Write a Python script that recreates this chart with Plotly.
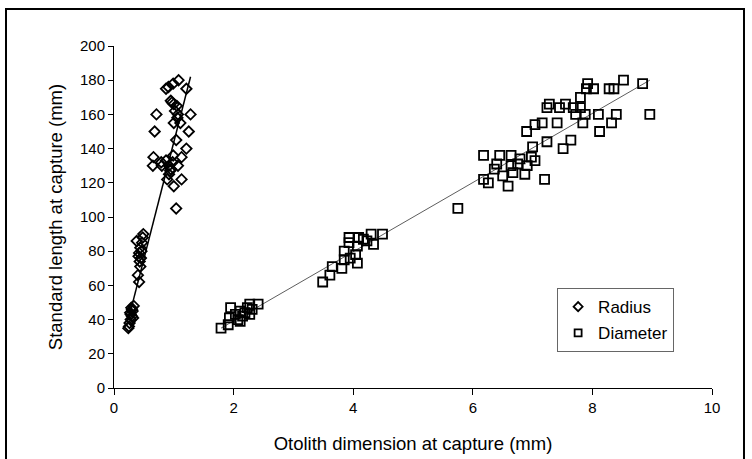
import plotly.graph_objects as go

# Radius data (otolith radius mm, standard length mm)
radius_x = [0.24, 0.26, 0.28, 0.30, 0.27, 0.31, 0.29, 0.33, 0.25, 0.32, 0.28, 0.30,
            0.42, 0.40, 0.44, 0.45, 0.42, 0.38, 0.49, 0.46, 0.43, 0.47, 0.41, 0.48, 0.44,
            0.71, 0.68, 0.66, 0.65, 0.80, 0.87, 0.91, 0.99, 1.08, 1.21, 1.28, 1.25, 1.21,
            1.13, 1.13, 1.00, 1.04, 0.89, 0.92, 0.95, 0.99, 1.04, 1.00, 1.11, 1.07, 0.97,
            1.00, 1.05, 0.95, 0.92, 1.07, 0.87, 0.79, 1.02, 0.98, 1.06, 0.94]
radius_y = [35, 38, 40, 42, 44, 45, 47, 48, 36, 41, 43, 46,
            62, 66, 71, 76, 79, 86, 90, 80, 74, 85, 77, 88, 82,
            160, 150, 135, 130, 130, 175, 176, 178, 180, 175, 160, 150, 140,
            135, 122, 118, 105, 122, 125, 128, 136, 145, 155, 155, 160, 167,
            166, 165, 168, 130, 130, 133, 132, 162, 132, 158, 127]

# Diameter data (otolith diameter mm, standard length mm)
diam_x = [1.79, 1.91, 1.95, 1.93, 2.03, 2.07, 2.11, 2.15, 2.19, 2.23, 2.27, 2.31, 2.41, 2.11, 2.27,
          3.49, 3.61, 3.65, 3.81, 3.85, 3.85, 3.93, 3.93, 3.95, 4.04, 4.07, 4.09, 4.17, 4.23,
          4.30, 4.34, 4.49, 4.07,
          5.75,
          6.18, 6.18, 6.26, 6.36, 6.40, 6.45, 6.50, 6.59, 6.64, 6.64, 6.67, 6.75, 6.79, 6.87,
          6.91, 6.98, 7.00, 7.04, 6.90, 7.04, 7.16, 7.24, 7.28, 7.24, 7.20, 7.41, 7.45, 7.55,
          7.51, 7.64, 7.80, 7.80, 7.88, 7.84, 7.92, 7.90, 8.02, 8.10, 8.12, 8.28, 8.36, 8.32,
          8.40, 8.52, 8.84, 8.96, 7.72, 7.68]
diam_y = [35, 37, 47, 41, 43, 40, 45, 42, 44, 47, 49, 46, 49, 39, 43,
          62, 66, 71, 70, 75, 80, 88, 85, 76, 78, 83, 88, 87, 86,
          90, 84, 90, 73,
          105,
          136, 122, 120, 128, 131, 136, 124, 118, 136, 130, 126, 131, 134, 125,
          130, 135, 141, 133, 150, 154, 155, 164, 166, 144, 122, 155, 164, 166,
          140, 145, 164, 170, 160, 155, 178, 175, 175, 160, 150, 175, 175, 155,
          160, 180, 178, 160, 160, 164]

# Regression lines (endpoints)
radius_line_x = [0.24, 1.28]
radius_line_y = [40, 182]
diam_line_x = [1.79, 8.96]
diam_line_y = [35, 180]

x_ticks = [0, 2, 4, 6, 8, 10]
y_ticks = [0, 20, 40, 60, 80, 100, 120, 140, 160, 180, 200]

FONT = "Liberation Sans, Arial, sans-serif"

fig = go.Figure()
fig.add_trace(go.Scatter(x=radius_line_x, y=radius_line_y, mode="lines",
                         line=dict(color="black", width=1.5), showlegend=False, hoverinfo="skip"))
fig.add_trace(go.Scatter(x=diam_line_x, y=diam_line_y, mode="lines",
                         line=dict(color="#333333", width=0.8), showlegend=False, hoverinfo="skip"))
fig.add_trace(go.Scatter(x=radius_x, y=radius_y, mode="markers", name="Radius",
                         showlegend=False,
                         marker=dict(symbol="diamond-open", size=8, color="black",
                                     line=dict(width=1.8, color="black"))))
fig.add_trace(go.Scatter(x=diam_x, y=diam_y, mode="markers", name="Diameter",
                         showlegend=False,
                         marker=dict(symbol="square-open", size=9, color="black",
                                     line=dict(width=1.8, color="black"))))
# legend entries (smaller symbols as in the reference legend)
fig.add_trace(go.Scatter(x=[None], y=[None], mode="markers", name="Radius",
                         legendgroup="r",
                         marker=dict(symbol="diamond-open", size=7, color="black",
                                     line=dict(width=1.8, color="black"))))
fig.add_trace(go.Scatter(x=[None], y=[None], mode="markers", name="Diameter",
                         legendgroup="d",
                         marker=dict(symbol="square-open", size=7, color="black",
                                     line=dict(width=1.8, color="black"))))

# outer frame
fig.add_shape(type="rect", xref="paper", yref="paper",
              x0=-0.1806, x1=1.0535, y0=-0.25, y1=1.108,
              line=dict(color="black", width=2), fillcolor="rgba(0,0,0,0)", layer="below")

fig.update_layout(
    width=752, height=459,
    margin=dict(l=114, r=40, t=46, b=71, autoexpand=False),
    paper_bgcolor="white", plot_bgcolor="white",
    font=dict(family=FONT, color="black", size=15),
    showlegend=True,
    legend=dict(x=0.741, y=0.292, xanchor="left", yanchor="top",
                bordercolor="#666666", borderwidth=1, bgcolor="white",
                font=dict(size=17, family=FONT), itemsizing="trace",
                tracegroupgap=1, itemwidth=30),
    xaxis=dict(range=[0, 10], tickvals=x_ticks, ticks="outside", ticklen=6,
               tickcolor="black", showline=True, linecolor="black", linewidth=1,
               showgrid=False, zeroline=False, tickfont=dict(size=15), automargin=False,
               title=dict(text="Otolith dimension at capture (mm)", font=dict(size=18.5),
                          standoff=22)),
    yaxis=dict(range=[0, 200], tickvals=y_ticks, ticks="outside", ticklen=5,
               tickcolor="black", showline=True, linecolor="black", linewidth=1,
               showgrid=False, zeroline=False, tickfont=dict(size=15), automargin=False,
               title=dict(text="Standard length at capture (mm)", font=dict(size=18.5),
                          standoff=12)),
)

fig.write_html("out.html")
